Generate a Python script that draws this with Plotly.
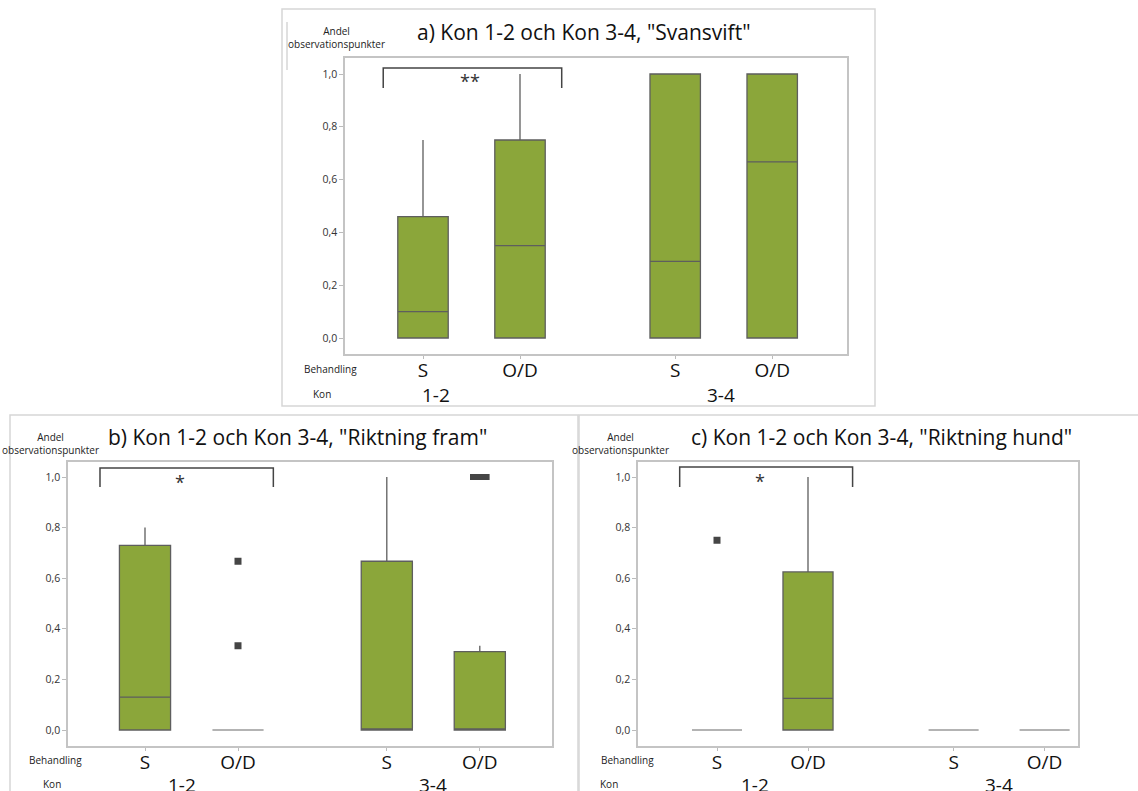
import plotly.graph_objects as go

W, H = 1138, 791

# ---------------- data ----------------
behandling = ["S", "O/D", "S", "O/D"]
kon_groups = ["1-2", "3-4"]
positions = [1, 2, 3.6, 4.6]

# a) Svansvift
a_q1 = [0, 0, 0, 0]
a_median = [0.10, 0.35, 0.29, 0.667]
a_q3 = [0.46, 0.75, 1.0, 1.0]
a_low = [0, 0, 0, 0]
a_up = [0.75, 1.0, 1.0, 1.0]

# b) Riktning fram
b_q1 = [0, 0, 0, 0]
b_median = [0.13, 0, 0, 0]
b_q3 = [0.73, 0, 0.667, 0.31]
b_low = [0, 0, 0, 0]
b_up = [0.80, 0, 1.0, 0.333]
b_out_x = [2, 2]
b_out_y = [0.667, 0.333]
b_out_wide_x = [4.6]
b_out_wide_y = [1.0]

# c) Riktning hund
c_q1 = [0, 0, 0, 0]
c_median = [0, 0.125, 0, 0]
c_q3 = [0, 0.625, 0, 0]
c_low = [0, 0, 0, 0]
c_up = [0, 1.0, 0, 0]
c_out_x = [1]
c_out_y = [0.75]

titles = ['a) Kon 1-2 och Kon 3-4, "Svansvift"',
          'b) Kon 1-2 och Kon 3-4, "Riktning fram"',
          'c) Kon 1-2 och Kon 3-4, "Riktning hund"']
sig_labels = ["**", "*", "*"]

# ---------------- styling ----------------
FILL = "#8ba63a"
EDGE = "#5e5e5e"
FLAT = "#9a9a9a"
DOT = "#454545"
FONT = "Open Sans"

def px(x):
    return x / W

def py(y):
    return 1 - y / H

panels = [
    dict(l=345, r=847, t=58, b=354, y1=74, y0=338, x1=423, unit=97, box=0.52,
         title=(584, 32), ylab=(337, 38), beh=(330, 369), kon=(322, 394), grp=[1.13, 4.07]),
    dict(l=68, r=552, t=462, b=746, y1=477, y0=730, x1=145, unit=93, box=0.55,
         title=(297, 437), ylab=(50, 443), beh=(55, 760), kon=(52, 784), grp=[1.4, 4.1]),
    dict(l=638, r=1078, t=462, b=746, y1=477, y0=730, x1=717, unit=91, box=0.55,
         title=(881, 437), ylab=(620, 443), beh=(627, 760), kon=(609, 784), grp=[1.42, 4.1]),
]
brackets = [(0.59, 2.43, 1.023, 0.947, 1.48, 0.975),
            (0.516, 2.38, 1.036, 0.96, 1.38, 0.982),
            (0.59, 2.49, 1.04, 0.96, 1.47, 0.985)]

fig = go.Figure()
layout = dict(width=W, height=H, margin=dict(l=0, r=0, t=0, b=0),
              paper_bgcolor="white", plot_bgcolor="white", showlegend=False,
              separators=",.", font=dict(family=FONT, color="#222"))
shapes = []
annotations = []

stats = [(a_q1, a_median, a_q3, a_low, a_up),
         (b_q1, b_median, b_q3, b_low, b_up),
         (c_q1, c_median, c_q3, c_low, c_up)]

for i, (p, st) in enumerate(zip(panels, stats)):
    n = "" if i == 0 else str(i + 1)
    xa, ya = "x" + n, "y" + n
    q1, med, q3, lo, up = st
    for flat in (False, True):
        idx = [k for k in range(len(positions)) if (up[k] == q1[k]) == flat]
        if not idx:
            continue
        fig.add_trace(go.Box(x=[positions[k] for k in idx], q1=[q1[k] for k in idx],
                             median=[med[k] for k in idx], q3=[q3[k] for k in idx],
                             lowerfence=[lo[k] for k in idx], upperfence=[up[k] for k in idx],
                             width=p["box"], fillcolor=FILL,
                             line=dict(color=FLAT if flat else EDGE, width=1.5 if flat else 1.3),
                             whiskerwidth=0, boxpoints=False,
                             xaxis=xa, yaxis=ya, hoverinfo="skip"))
    ppu = p["y0"] - p["y1"]
    yr = [-(p["b"] - p["y0"]) / ppu, 1 + (p["y1"] - p["t"]) / ppu]
    xr = [1 - (p["x1"] - p["l"]) / p["unit"], 1 + (p["r"] - p["x1"]) / p["unit"]]
    layout["xaxis" + n] = dict(domain=[px(p["l"]), px(p["r"])], range=xr,
                               anchor=ya, tickvals=positions, ticktext=behandling,
                               ticks="outside", ticklen=3, tickcolor="#bbb",
                               ticklabelstandoff=-5,
                               tickfont=dict(size=19, color="#111", family=FONT, weight=500),
                               showline=True, mirror=True, linecolor="#c4c4c4",
                               linewidth=1.5, showgrid=False, zeroline=False, fixedrange=True)
    layout["yaxis" + n] = dict(domain=[py(p["b"]), py(p["t"])], range=yr,
                               anchor=xa, tickvals=[0, 0.2, 0.4, 0.6, 0.8, 1.0],
                               tickformat=".1f", ticks="outside", ticklen=4, tickcolor="#bbb",
                               tickfont=dict(size=10.5, color="#333", family=FONT),
                               showline=True, mirror=True, linecolor="#c4c4c4",
                               linewidth=1.5, showgrid=False, zeroline=False, fixedrange=True)
    annotations.append(dict(text=titles[i], x=px(p["title"][0]), y=py(p["title"][1]),
                            xref="paper", yref="paper", showarrow=False,
                            font=dict(size=21, color="#111", family=FONT, weight=500),
                            xanchor="center", yanchor="middle"))
    annotations.append(dict(text="Andel<br>observationspunkter", x=px(p["ylab"][0]), y=py(p["ylab"][1]),
                            xref="paper", yref="paper", showarrow=False,
                            font=dict(size=10, color="#222", family=FONT),
                            xanchor="center", yanchor="middle", align="center"))
    annotations.append(dict(text="Behandling", x=px(p["beh"][0]), y=py(p["beh"][1]),
                            xref="paper", yref="paper", showarrow=False,
                            xanchor="center", yanchor="middle",
                            font=dict(size=10, color="#222", family=FONT)))
    annotations.append(dict(text="Kon", x=px(p["kon"][0]), y=py(p["kon"][1]),
                            xref="paper", yref="paper", showarrow=False,
                            xanchor="center", yanchor="middle",
                            font=dict(size=10, color="#222", family=FONT)))
    for gx, g in zip(p["grp"], kon_groups):
        annotations.append(dict(text=g, x=gx, y=py(p["kon"][1] + 1), xref=xa, yref="paper",
                                showarrow=False, xanchor="center", yanchor="middle",
                                font=dict(size=19, color="#111", family=FONT, weight=500)))
    bx0, bx1, btop, bleg, sx, sy = brackets[i]
    shapes.append(dict(type="path", xref=xa, yref=ya,
                       path=f"M {bx0},{bleg} L {bx0},{btop} L {bx1},{btop} L {bx1},{bleg}",
                       line=dict(color="#444", width=1.5)))
    annotations.append(dict(text=sig_labels[i], x=sx, y=sy, xref=xa, yref=ya, showarrow=False,
                            xanchor="center", yanchor="middle",
                            font=dict(size=18, color="#333", family=FONT)))

# outliers
fig.add_trace(go.Scatter(x=b_out_x, y=b_out_y, mode="markers", xaxis="x2", yaxis="y2",
                         marker=dict(symbol="square", size=7, color=DOT), hoverinfo="skip"))
fig.add_trace(go.Scatter(x=b_out_wide_x, y=b_out_wide_y, mode="markers", xaxis="x2", yaxis="y2",
                         marker=dict(symbol="line-ew", size=14, line=dict(color=DOT, width=6)),
                         hoverinfo="skip"))
fig.add_trace(go.Scatter(x=c_out_x, y=c_out_y, mode="markers", xaxis="x3", yaxis="y3",
                         marker=dict(symbol="square", size=7, color=DOT), hoverinfo="skip"))

# outer frames
frame_col = "#d6d6d6"
shapes.append(dict(type="rect", xref="paper", yref="paper", x0=px(282), x1=px(875), y0=py(406), y1=py(9),
                   line=dict(color=frame_col, width=1.5)))
shapes.append(dict(type="line", xref="paper", yref="paper", x0=px(287), x1=px(287), y0=py(70), y1=py(22),
                   line=dict(color=frame_col, width=1.5)))
shapes.append(dict(type="rect", xref="paper", yref="paper", x0=px(10), x1=px(578), y0=py(795), y1=py(415),
                   line=dict(color=frame_col, width=1.5)))
shapes.append(dict(type="rect", xref="paper", yref="paper", x0=px(579), x1=px(1142), y0=py(795), y1=py(415),
                   line=dict(color=frame_col, width=1.5)))

layout["shapes"] = shapes
layout["annotations"] = annotations
fig.update_layout(**layout)
fig.write_html("out.html")
